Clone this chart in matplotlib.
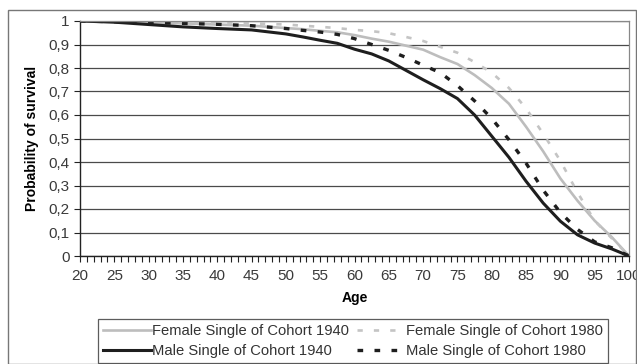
# Survival curves, single persons, cohorts 1940 and 1980

import numpy as np
import matplotlib.pyplot as plt
from matplotlib.patches import Rectangle
from matplotlib.ticker import MultipleLocator

plt.rcParams['font.family'] = ['Liberation Sans', 'DejaVu Sans']

ages = [20, 25, 30, 35, 40, 45, 50, 52.5, 55, 57.5, 60, 62.5, 65, 67.5, 70,
        72.5, 75, 77.5, 80, 82.5, 85, 87.5, 90, 92.5, 95, 97.5, 100]

female_1940 = [1.0, 0.996, 0.993, 0.99, 0.985, 0.98, 0.97, 0.965, 0.958, 0.952,
               0.94, 0.925, 0.912, 0.895, 0.878, 0.846, 0.817, 0.77, 0.715,
               0.648, 0.55, 0.445, 0.33, 0.235, 0.15, 0.08, 0.0]
female_1980 = [1.0, 0.998, 0.997, 0.995, 0.993, 0.99, 0.985, 0.98, 0.975, 0.97,
               0.962, 0.957, 0.948, 0.932, 0.915, 0.89, 0.865, 0.825, 0.78,
               0.715, 0.628, 0.52, 0.405, 0.27, 0.15, 0.075, 0.0]
male_1940 = [1.0, 0.995, 0.985, 0.975, 0.968, 0.962, 0.945, 0.932, 0.918, 0.905,
             0.88, 0.86, 0.83, 0.79, 0.75, 0.712, 0.67, 0.6, 0.51,
             0.42, 0.318, 0.225, 0.148, 0.09, 0.055, 0.03, 0.0]
male_1980 = [1.0, 0.997, 0.993, 0.99, 0.986, 0.98, 0.968, 0.96, 0.953, 0.943,
             0.925, 0.9, 0.875, 0.845, 0.812, 0.78, 0.725, 0.66, 0.585,
             0.495, 0.395, 0.28, 0.185, 0.113, 0.06, 0.035, 0.0]

labels = ['Female Single of Cohort 1940', 'Female Single of Cohort 1980',
          'Male Single of Cohort 1940', 'Male Single of Cohort 1980']

fig = plt.figure(figsize=(6.37, 3.64), dpi=100)
ax = fig.add_axes([80 / 637, 1 - 256 / 364, 549 / 637, 235 / 364])

# outer chart frame
fig.patches.append(Rectangle((8 / 637, 0.0), 628 / 637, 1 - 10 / 364,
                             transform=fig.transFigure, fill=False,
                             edgecolor='#777777', linewidth=1.0))

l1, = ax.plot(ages, female_1940, color='#bdbdbd', lw=1.9)
l2, = ax.plot(ages, female_1980, color='#c4c4c4', lw=1.9, dashes=(2.0, 4.2))
l3, = ax.plot(ages, male_1940, color='#1e1e1e', lw=2.2)
l4, = ax.plot(ages, male_1980, color='#1e1e1e', lw=2.4, dashes=(1.7, 3.4))

ax.set_xlim(20, 100)
ax.set_ylim(0, 1)
ax.xaxis.set_major_locator(MultipleLocator(5))
ax.xaxis.set_minor_locator(MultipleLocator(1))
ax.set_yticks(np.arange(0, 1.01, 0.1))
ax.set_yticklabels(['0'] + ['0,%d' % i for i in range(1, 10)] + ['1'])

ax.grid(axis='y', color='#4a4a4a', lw=0.9)
ax.set_axisbelow(True)
ax.tick_params(axis='both', which='both', direction='out', length=4,
               width=0.8, color='#222222', labelsize=11, labelcolor='#3a3a3a')
ax.tick_params(axis='x', pad=5)
for side in ['top', 'right']:
    ax.spines[side].set_color('#888888')
    ax.spines[side].set_linewidth(0.9)
for side in ['left', 'bottom']:
    ax.spines[side].set_color('#222222')
    ax.spines[side].set_linewidth(1.0)

ax.set_xlabel('Age', fontsize=10, fontweight='bold', labelpad=6)
ax.set_ylabel('Probability of survival', fontsize=10, fontweight='bold', labelpad=7)

# legend fills column by column, so interleave to get female row / male row
leg = fig.legend([l1, l3, l2, l4], [labels[0], labels[2], labels[1], labels[3]],
                 ncol=2, loc='lower center', bbox_to_anchor=(353 / 637, 1 / 364),
                 fontsize=10.6, handlelength=3.25,
                 handletextpad=0.1, columnspacing=0.5, borderpad=0.35,
                 labelspacing=0.4, fancybox=False, frameon=True,
                 borderaxespad=0)
leg.get_frame().set_edgecolor('#333333')
leg.get_frame().set_linewidth(0.9)
for t in leg.get_texts():
    t.set_color('#333333')

fig.savefig('out.png', dpi=100)
